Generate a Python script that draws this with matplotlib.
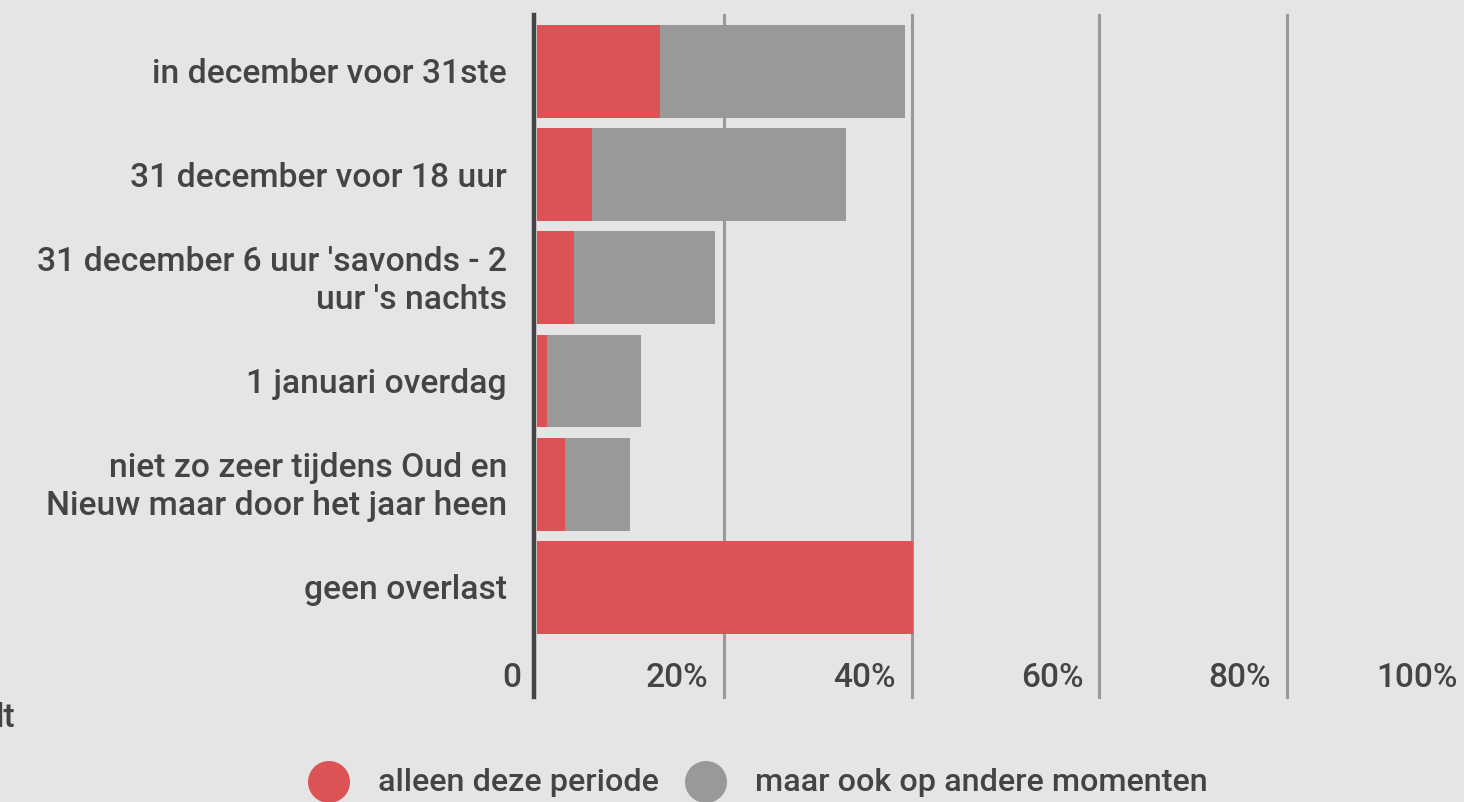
import matplotlib.pyplot as plt
import matplotlib.transforms as mtransforms
from matplotlib.patches import Circle

categories = [
    "in december voor 31ste",
    "31 december voor 18 uur",
    "31 december 6 uur 'savonds - 2\nuur 's nachts",
    "1 januari overdag",
    "niet zo zeer tijdens Oud en\nNieuw maar door het jaar heen",
    "geen overlast",
]
alleen = [13.1, 5.9, 3.9, 1.1, 3.0, 40.1]
ook = [26.2, 27.1, 15.1, 10.0, 6.9, 0.0]
ticks = [0, 20, 40, 60, 80, 100]
tick_labels = ["0", "20%", "40%", "60%", "80%", "100%"]
legend_labels = ["alleen deze periode", "maar ook op andere momenten"]

bg = "#e5e5e5"
red = "#dc5356"
grey = "#999999"
txt = "#444444"

plt.rcParams['font.family'] = ['Roboto', 'DejaVu Sans']
plt.rcParams['font.weight'] = 'medium'

W, H = 1464, 803
fig = plt.figure(figsize=(W / 100, H / 100), dpi=100, facecolor=bg)
# axes: x=0 at 537px, 100% at 1474px; top 16px, bottom 698px
ax = fig.add_axes([537 / W, 1 - 698 / H, 937 / W, 682 / H])
ax.set_facecolor(bg)
ax.set_xlim(0, 100)
ax.set_ylim(6.062, -0.547)
for s in ax.spines.values():
    s.set_visible(False)
ax.set_xticks([])
ax.set_yticks([])

for t in ticks[1:]:
    ax.axvline(t, color=grey, lw=2.2, zorder=1, clip_on=False)

ypos = list(range(len(categories)))
ax.barh(ypos, alleen, height=0.9, color=red, zorder=2)
ax.barh(ypos, ook, left=alleen, height=0.9, color=grey, zorder=2)
ax.axvline(-0.28, color="#444444", lw=3.2, zorder=3, clip_on=False)

off = mtransforms.offset_copy(ax.transData, fig=fig, x=-16, y=0, units='dots')
for t, lab in zip(ticks, tick_labels):
    ax.text(t, 5.87, lab, transform=off, ha='right', va='center',
            fontsize=24, color=txt, clip_on=False)

off2 = mtransforms.offset_copy(ax.transData, fig=fig, x=-30, y=-2, units='dots')
for y, lab in zip(ypos, categories):
    ax.text(0, y, lab, transform=off2, ha='right', va='center',
            fontsize=24.2, color=txt, linespacing=1.22, multialignment='right')

fig.text(15 / W, 1 - 718 / H, "lt", ha='right', va='center', fontsize=24, color=txt)

# legend
for cx, col, tx, lab in [(329, red, 378, legend_labels[0]),
                         (706, grey, 755, legend_labels[1])]:
    fig.patches.append(Circle((cx, H - 783), 21, transform=None,
                              facecolor=col, edgecolor='none'))
    fig.text(tx / W, 1 - 783 / H, lab, ha='left', va='center',
             fontsize=23.3, color=txt)

fig.savefig("out.png", dpi=100, facecolor=bg)
